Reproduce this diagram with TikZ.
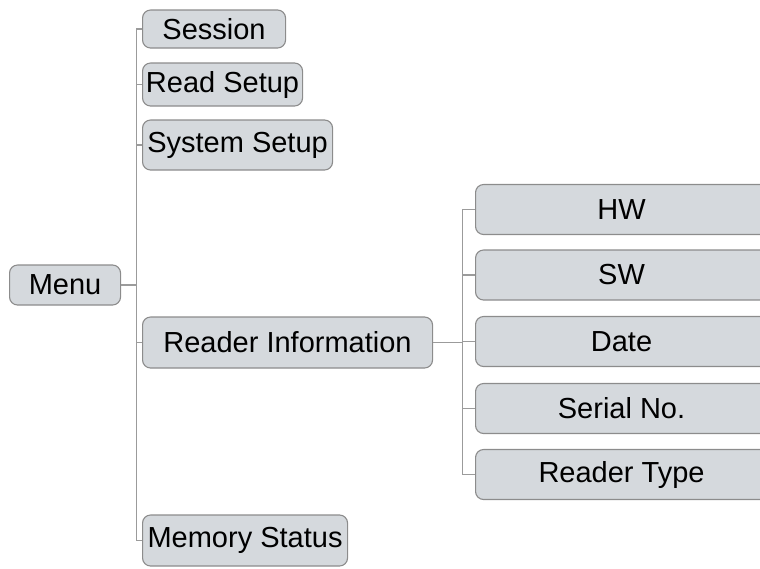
\documentclass[tikz,border=0pt]{standalone}
\usepackage{fontspec}
\setmainfont{Liberation Sans}
\usetikzlibrary{positioning}
\definecolor{boxfill}{RGB}{213,217,221}
\definecolor{boxline}{RGB}{140,140,140}
\definecolor{treeline}{RGB}{155,155,155}
\tikzset{
  menubox/.style={draw=boxline, fill=boxfill, line width=1.1pt, rounded corners=8pt,
    inner sep=0pt, anchor=west, align=center, font=\fontsize{29}{33}\selectfont},
  branch/.style={draw=treeline, line width=1.1pt}
}
\begin{document}
\begin{tikzpicture}[x=1pt,y=-1pt]
\useasboundingbox (0,0) rectangle (760,568);
\begin{scope}
\clip (0,0) rectangle (760,568);
% root
\node[menubox, minimum width=111pt, minimum height=40pt] (menu) at (9,285) {Menu};
% first level
\node[menubox, minimum width=143pt, minimum height=38pt] (session) at (142,29) {Session};
\node[menubox, minimum width=160pt, minimum height=43pt] (readsetup) at (142,84.5) {Read Setup};
\node[menubox, minimum width=190pt, minimum height=50pt] (systemsetup) at (142,145) {System Setup};
\node[menubox, minimum width=290pt, minimum height=51pt] (readerinfo) at (142,342.5) {Reader Information};
\node[menubox, minimum width=205pt, minimum height=51pt] (memorystatus) at (142,540.5) {Memory Status};
% second level
\def\infoitems{hw/209.5/HW, sw/275/SW, date/341.5/Date, serialno/408.5/Serial No., readertype/474.5/Reader Type}
\foreach \name/\y/\txt in \infoitems
{
\node[menubox, minimum width=292pt, minimum height=50pt] (\name) at (475,\y) {\txt};
}
% tree lines
\draw[branch] (menu.east) -- ++(15,0) coordinate (j1);
\foreach \c in {session,readsetup,systemsetup,readerinfo,memorystatus}
{ \draw[branch] (\c.west) -| (j1); }
\draw[branch] (readerinfo.east) -- ++(29,0) coordinate (j2);
\foreach \c in {hw,sw,date,serialno,readertype}
{ \draw[branch] (\c.west) -| (j2); }
\end{scope}
\end{tikzpicture}
\end{document}
